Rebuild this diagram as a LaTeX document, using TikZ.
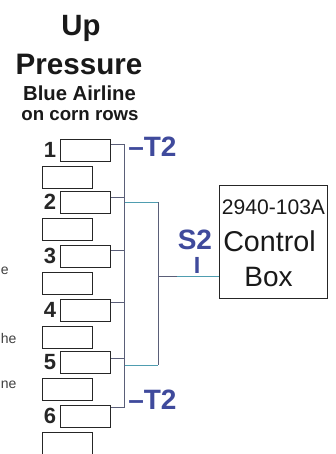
\documentclass[tikz,border=0pt]{standalone}
\usepackage{fontspec}
\setmainfont{Liberation Sans}
\usetikzlibrary{positioning}
\definecolor{tblue}{HTML}{3F4A9C}
\definecolor{trunkgray}{HTML}{5A5E78}
\definecolor{airblue}{HTML}{4F9DB0}
\tikzset{
    rowbox/.style={draw=black!85, line width=0.8pt, minimum width=37.5pt, minimum height=16.6pt, inner sep=0pt, anchor=north west},
    rownum/.style={font=\bfseries\fontsize{16.5}{17}\selectfont, text=black!85, inner sep=0pt, anchor=base east},
    tlabel/.style={font=\bfseries\fontsize{21}{22}\selectfont, text=tblue, inner sep=0pt, anchor=base west},
    titletxt/.style={font=\bfseries, text=black!90, inner sep=0pt, anchor=base},
    boxtxt/.style={text=black!90, inner sep=0pt, anchor=base},
    cuttxt/.style={font=\fontsize{10.5}{11}\selectfont, text=black!75, inner sep=0pt, anchor=base west},
    trunk/.style={draw=trunkgray, line width=0.7pt},
    airline/.style={draw=airblue, line width=0.7pt},
}
\begin{document}
\begin{tikzpicture}[x=0.75pt, y=-0.75pt]
    \useasboundingbox (0,0) rectangle (336,454);
    \fill[white] (0,0) rectangle (336,454);
    % Title
    \node[titletxt] (up) at (81,35) {\fontsize{22}{23}\selectfont Up};
    \node[titletxt] (pressure) at (79,74) {\fontsize{22.2}{23}\selectfont Pressure};
    \node[titletxt] (airlinetxt) at (79.5,100) {\fontsize{15.2}{16}\selectfont Blue Airline};
    \node[titletxt] (cornrows) at (80,120) {\fontsize{14}{15}\selectfont on corn rows};
    % Rows
    \foreach \n/\y/\ya/\ys in {1/139/165.5/144, 2/191/218/197, 3/245/272/250, 4/299/326/302.5, 5/351/378/358, 6/405/432/407} {
        \node[rowbox] (row\n) at (60,\y) {};
        \node[rowbox] (alt\n) at (42,\ya) {};
        \node[rownum] (num\n) at (56.5,\y+18.5) {\n};
        \coordinate (stub\n) at (124.5,\ys);
        \draw[trunk] (row\n.east |- stub\n) -- (stub\n);
    }
    \draw[trunk] (stub1) -- (stub6);
    % Blue airline
    \coordinate (tapa) at (124.5,202);
    \coordinate (tapb) at (124.5,365);
    \coordinate (cornera) at (158,202);
    \coordinate (cornerb) at (158,365);
    \coordinate (tapc) at (158,276);
    \coordinate (tapd) at (177,276);
    \draw[airline] (tapa) -- (cornera);
    \draw[airline] (tapb) -- (cornerb);
    \draw[trunk] (cornera) -- (cornerb);
    % Control box
    \node[draw=black!85, line width=0.8pt, minimum width=81pt, minimum height=84.5pt, inner sep=0pt, anchor=north west] (ctrl) at (219,185) {};
    \node[boxtxt] (partno) at (273.5,214) {\fontsize{15.8}{16}\selectfont 2940-103A};
    \node[boxtxt] (ctrltxt) at (269.5,251) {\fontsize{21.5}{22}\selectfont Control};
    \node[boxtxt] (boxtxt) at (268.5,286) {\fontsize{21}{22}\selectfont Box};
    \draw[trunk] (tapc) -- (tapd);
    \draw[airline] (tapd) -- (ctrl.west |- tapd);
    % Labels
    \node[tlabel] (tone) at (128,156) {--T2};
    \node[tlabel] (ttwo) at (128,409) {--T2};
    \node[tlabel] (stwo) at (177.5,249) {S2};
    \node[font=\bfseries\fontsize{17.5}{18}\selectfont, text=tblue, inner sep=0pt, anchor=base] (sbar) at (197,273.5) {I};
    % Fragments at the left edge
    \node[cuttxt] (cuta) at (0.5,274) {e};
    \node[cuttxt] (cutb) at (0.5,343) {he};
    \node[cuttxt] (cutc) at (0.5,388) {ne};
\end{tikzpicture}
\end{document}
